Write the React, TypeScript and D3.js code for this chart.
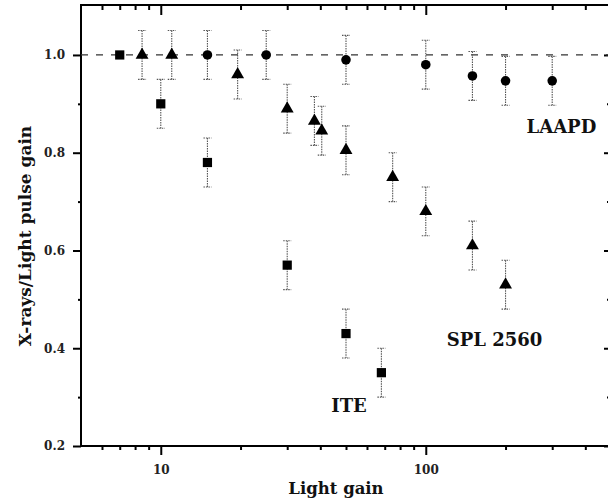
import React, { useEffect, useRef } from 'react';
import * as d3 from 'd3';

// ITE (squares)
const iteGain = [7, 10, 15, 30, 50, 68];
const iteRatio = [1.0, 0.9, 0.78, 0.57, 0.43, 0.35];
const iteErr = [0, 0.05, 0.05, 0.05, 0.05, 0.05];

// SPL 2560 (triangles)
const splGain = [8.5, 11, 19.5, 30, 38, 40.5, 50, 75, 100, 150, 200];
const splRatio = [1.0, 1.0, 0.96, 0.89, 0.865, 0.845, 0.805, 0.75, 0.68, 0.61, 0.53];
const splErr = [0.05, 0.05, 0.05, 0.05, 0.05, 0.05, 0.05, 0.05, 0.05, 0.05, 0.05];

// LAAPD (circles)
const laapdGain = [15, 25, 50, 100, 150, 200, 300];
const laapdRatio = [1.0, 1.0, 0.99, 0.98, 0.957, 0.947, 0.947];
const laapdErr = [0.05, 0.05, 0.05, 0.05, 0.05, 0.05, 0.05];

const xMajor = [10, 100];
const xMinor = [6, 7, 8, 9, 20, 30, 40, 50, 60, 70, 80, 90, 200, 300, 400];
const yMajor = [0.2, 0.4, 0.6, 0.8, 1.0];
const yMinor = [0.3, 0.5, 0.7, 0.9];

const labelNames = ['LAAPD', 'SPL 2560', 'ITE'];
const labelGain = [240, 120, 44];
const labelRatio = [0.84, 0.405, 0.27];

const FONT = '"DejaVu Serif", "Liberation Serif", serif';

const App = () => {
  const svgRef = useRef(null);

  useEffect(() => {
    document.body.style.margin = '0';
    const W = 608;
    const H = 504;
    const left = 81, right = 611, top = 5, bottom = 446;

    const svg = d3.select(svgRef.current).attr('width', W).attr('height', H);
    svg.selectAll('*').remove();

    const x = d3.scaleLog().domain([5, 500]).range([left, right]);
    const y = d3.scaleLinear().domain([0.2, 1.1022]).range([bottom, top]);

    const axisStyle = (g, w) => {
      g.select('.domain').remove();
      g.selectAll('line').attr('stroke', '#000').attr('stroke-width', w);
      g.selectAll('text')
        .attr('font-family', FONT)
        .attr('font-weight', 'bold')
        .attr('font-size', 12)
        .attr('fill', '#222');
    };

    // bottom axis (ticks outward)
    svg.append('g').attr('transform', `translate(0,${bottom})`)
      .call(d3.axisBottom(x).tickValues(xMajor).tickSize(9).tickPadding(10).tickFormat(d3.format('d')))
      .call(g => axisStyle(g, 2));
    svg.append('g').attr('transform', `translate(0,${bottom})`)
      .call(d3.axisBottom(x).tickValues(xMinor).tickSize(4).tickFormat(() => ''))
      .call(g => axisStyle(g, 2));

    // top axis (ticks inward)
    svg.append('g').attr('transform', `translate(0,${top})`)
      .call(d3.axisBottom(x).tickValues(xMajor).tickSize(10).tickFormat(() => ''))
      .call(g => axisStyle(g, 2));
    svg.append('g').attr('transform', `translate(0,${top})`)
      .call(d3.axisBottom(x).tickValues(xMinor).tickSize(5).tickFormat(() => ''))
      .call(g => axisStyle(g, 2));

    // left axis (ticks outward)
    svg.append('g').attr('transform', `translate(${left},0)`)
      .call(d3.axisLeft(y).tickValues(yMajor).tickSize(8).tickPadding(8).tickFormat(d3.format('.1f')))
      .call(g => axisStyle(g, 2));
    svg.append('g').attr('transform', `translate(${left},0)`)
      .call(d3.axisLeft(y).tickValues(yMinor).tickSize(3).tickFormat(() => ''))
      .call(g => axisStyle(g, 2));

    // right axis (ticks inward)
    svg.append('g').attr('transform', `translate(${right},0)`)
      .call(d3.axisLeft(y).tickValues(yMajor).tickSize(7).tickFormat(() => ''))
      .call(g => axisStyle(g, 2));
    svg.append('g').attr('transform', `translate(${right},0)`)
      .call(d3.axisLeft(y).tickValues(yMinor).tickSize(4).tickFormat(() => ''))
      .call(g => axisStyle(g, 2));

    // frame
    svg.append('rect')
      .attr('x', left).attr('y', top)
      .attr('width', right - left).attr('height', bottom - top)
      .attr('fill', 'none').attr('stroke', '#000').attr('stroke-width', 2);

    // reference line at 1.0
    svg.append('line')
      .attr('x1', left).attr('x2', right)
      .attr('y1', y(1)).attr('y2', y(1))
      .attr('stroke', '#333').attr('stroke-width', 1.2)
      .attr('stroke-dasharray', '7,8');

    const series = [
      { gain: iteGain, ratio: iteRatio, err: iteErr, symbol: d3.symbolSquare, size: 85 },
      { gain: splGain, ratio: splRatio, err: splErr, symbol: d3.symbolTriangle, size: 72 },
      { gain: laapdGain, ratio: laapdRatio, err: laapdErr, symbol: d3.symbolCircle, size: 72 },
    ];

    series.forEach(s => {
      const pts = s.gain.map((g, i) => ({ g, r: s.ratio[i], e: s.err[i] }));
      const eb = svg.append('g')
        .attr('stroke', '#555').attr('stroke-width', 1.1)
        .attr('stroke-dasharray', '1.5,1');
      const withErr = pts.filter(p => p.e > 0);
      eb.selectAll('line.v').data(withErr).enter().append('line')
        .attr('x1', d => x(d.g)).attr('x2', d => x(d.g))
        .attr('y1', d => y(d.r + d.e)).attr('y2', d => y(d.r - d.e));
      [1, -1].forEach(sign => {
        eb.selectAll(null).data(withErr).enter().append('line')
          .attr('x1', d => x(d.g) - 4).attr('x2', d => x(d.g) + 4)
          .attr('y1', d => y(d.r + sign * d.e)).attr('y2', d => y(d.r + sign * d.e));
      });
      svg.append('g').selectAll('path').data(pts).enter().append('path')
        .attr('d', d3.symbol(s.symbol, s.size))
        .attr('transform', d => `translate(${x(d.g)},${y(d.r)})`)
        .attr('fill', '#000');
    });

    // series labels
    svg.append('g').selectAll('text').data(labelNames).enter().append('text')
      .attr('x', (d, i) => x(labelGain[i]))
      .attr('y', (d, i) => y(labelRatio[i]))
      .attr('font-family', FONT).attr('font-weight', 'bold')
      .attr('font-size', 18).attr('fill', '#111')
      .text(d => d);

    // axis titles
    svg.append('text')
      .attr('x', (left + right) / 2 - 10).attr('y', 494)
      .attr('text-anchor', 'middle')
      .attr('font-family', FONT).attr('font-weight', 'bold')
      .attr('font-size', 16.5).attr('fill', '#111')
      .text('Light gain');

    svg.append('text')
      .attr('transform', `translate(31,236) rotate(-90)`)
      .attr('text-anchor', 'middle')
      .attr('font-family', FONT).attr('font-weight', 'bold')
      .attr('font-size', 17).attr('fill', '#111')
      .text('X-rays/Light pulse gain');
  }, []);

  return <svg ref={svgRef} style={{ display: 'block' }} />;
};

export default App;
